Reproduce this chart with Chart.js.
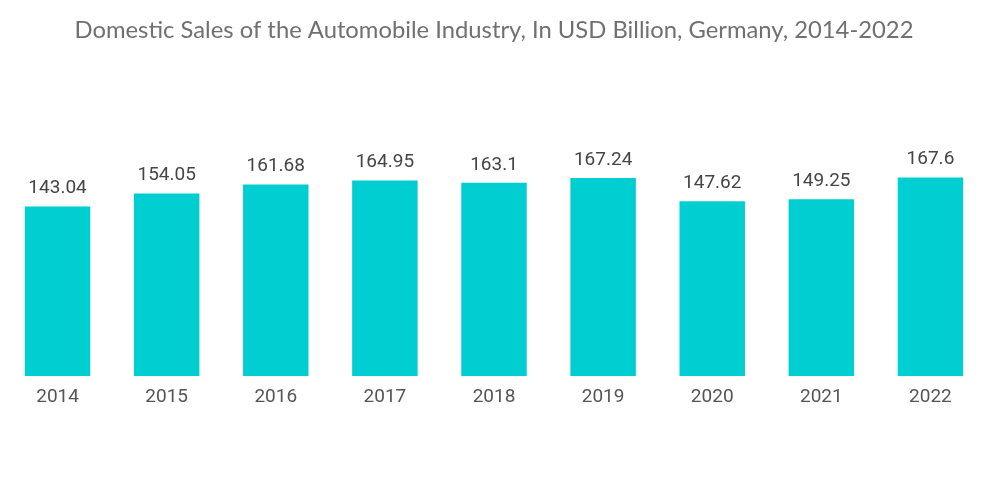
<!DOCTYPE html>
<html>
<head>
<meta charset="utf-8">
<script src="https://cdn.jsdelivr.net/npm/chart.js@4/dist/chart.umd.min.js"></script>
<style>
  html, body { margin: 0; padding: 0; background: #fff; }
  #wrap { width: 1000px; height: 504px; }
</style>
</head>
<body>
<div id="wrap"><canvas id="chart"></canvas></div>
<script>
// Données du graphique
const years = ['2014', '2015', '2016', '2017', '2018', '2019', '2020', '2021', '2022'];
const sales = [143.04, 154.05, 161.68, 164.95, 163.1, 167.24, 147.62, 149.25, 167.6];
const titleText = 'Domestic Sales of the Automobile Industry, In USD Billion, Germany, 2014-2022';

// Étiquettes de valeur au-dessus des barres
const valueLabels = {
  id: 'valueLabels',
  afterDatasetsDraw(chart) {
    const ctx = chart.ctx;
    const meta = chart.getDatasetMeta(0);
    ctx.save();
    ctx.font = '19px Roboto';
    ctx.fillStyle = '#454545';
    ctx.textAlign = 'center';
    ctx.textBaseline = 'middle';
    meta.data.forEach((bar, i) => {
      ctx.fillText(String(sales[i]), bar.x, bar.y - 18);
    });
    ctx.restore();
  }
};

new Chart(document.getElementById('chart'), {
  type: 'bar',
  data: {
    labels: years,
    datasets: [{
      data: sales,
      backgroundColor: '#00CED1',
      borderWidth: 0,
      categoryPercentage: 1,
      barPercentage: 0.6
    }]
  },
  options: {
    responsive: true,
    maintainAspectRatio: false,
    animation: false,
    layout: { padding: { left: 3, right: 15, top: 0, bottom: 93 } },
    plugins: {
      legend: { display: false },
      tooltip: { enabled: false },
      title: {
        display: true,
        text: titleText,
        color: '#707070',
        font: { family: 'Lato', size: 23.8, weight: 'normal' },
        padding: { top: 16, bottom: 55 }
      }
    },
    scales: {
      x: {
        grid: { display: false },
        border: { display: false },
        ticks: {
          color: '#555',
          font: { family: 'Roboto', size: 19 },
          padding: 2
        }
      },
      y: {
        display: false,
        min: 0,
        max: 233.3
      }
    }
  },
  plugins: [valueLabels]
});
</script>
</body>
</html>
